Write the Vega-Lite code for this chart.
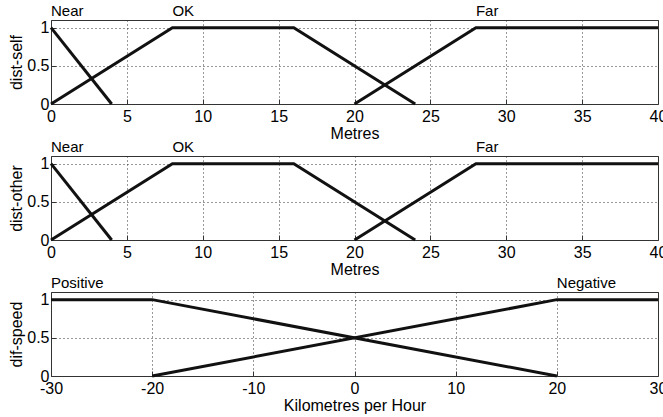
{
  "$schema": "https://vega.github.io/schema/vega-lite/v6.json",
  "autosize": {"type": "pad"},
  "padding": {"left": 7, "top": 3, "right": 0, "bottom": 0},
  "background": "white",
  "datasets": {
    "mf": [
      {"panel": "self", "mf": "Near", "x": 0, "y": 1},
      {"panel": "self", "mf": "Near", "x": 4, "y": 0},
      {"panel": "self", "mf": "OK", "x": 0, "y": 0},
      {"panel": "self", "mf": "OK", "x": 8, "y": 1},
      {"panel": "self", "mf": "OK", "x": 16, "y": 1},
      {"panel": "self", "mf": "OK", "x": 24, "y": 0},
      {"panel": "self", "mf": "Far", "x": 20, "y": 0},
      {"panel": "self", "mf": "Far", "x": 28, "y": 1},
      {"panel": "self", "mf": "Far", "x": 40, "y": 1},
      {"panel": "other", "mf": "Near", "x": 0, "y": 1},
      {"panel": "other", "mf": "Near", "x": 4, "y": 0},
      {"panel": "other", "mf": "OK", "x": 0, "y": 0},
      {"panel": "other", "mf": "OK", "x": 8, "y": 1},
      {"panel": "other", "mf": "OK", "x": 16, "y": 1},
      {"panel": "other", "mf": "OK", "x": 24, "y": 0},
      {"panel": "other", "mf": "Far", "x": 20, "y": 0},
      {"panel": "other", "mf": "Far", "x": 28, "y": 1},
      {"panel": "other", "mf": "Far", "x": 40, "y": 1},
      {"panel": "speed", "mf": "Positive", "x": -30, "y": 1},
      {"panel": "speed", "mf": "Positive", "x": -20, "y": 1},
      {"panel": "speed", "mf": "Positive", "x": 20, "y": 0},
      {"panel": "speed", "mf": "Negative", "x": -20, "y": 0},
      {"panel": "speed", "mf": "Negative", "x": 20, "y": 1},
      {"panel": "speed", "mf": "Negative", "x": 30, "y": 1}
    ],
    "labels": [
      {"panel": "self", "label": "Near", "x": 0},
      {"panel": "self", "label": "OK", "x": 8},
      {"panel": "self", "label": "Far", "x": 28},
      {"panel": "other", "label": "Near", "x": 0},
      {"panel": "other", "label": "OK", "x": 8},
      {"panel": "other", "label": "Far", "x": 28},
      {"panel": "speed", "label": "Positive", "x": -30},
      {"panel": "speed", "label": "Negative", "x": 20}
    ]
  },
  "vconcat": [
    {
      "width": 607, "height": 84,
      "layer": [
        {
          "data": {"name": "mf"},
          "transform": [{"filter": "datum.panel === 'self'"}],
          "mark": {"type": "line", "color": "#111", "strokeWidth": 3},
          "encoding": {
            "x": {"field": "x", "type": "quantitative", "scale": {"domain": [0, 40], "nice": false},
                  "axis": {"values": [0, 5, 10, 15, 20, 25, 30, 35, 40], "title": "Metres"}},
            "y": {"field": "y", "type": "quantitative", "scale": {"domain": [0, 1.1], "nice": false},
                  "axis": {"values": [0, 0.5, 1], "title": "dist-self"}},
            "detail": {"field": "mf"}
          }
        },
        {
          "data": {"name": "labels"},
          "transform": [{"filter": "datum.panel === 'self'"}],
          "mark": {"type": "text", "align": "left", "baseline": "bottom", "dy": -1, "color": "#000"},
          "encoding": {
            "x": {"field": "x", "type": "quantitative"},
            "y": {"datum": 1.1},
            "text": {"field": "label"}
          }
        }
      ]
    },
    {
      "width": 607, "height": 84,
      "layer": [
        {
          "data": {"name": "mf"},
          "transform": [{"filter": "datum.panel === 'other'"}],
          "mark": {"type": "line", "color": "#111", "strokeWidth": 3},
          "encoding": {
            "x": {"field": "x", "type": "quantitative", "scale": {"domain": [0, 40], "nice": false},
                  "axis": {"values": [0, 5, 10, 15, 20, 25, 30, 35, 40], "title": "Metres"}},
            "y": {"field": "y", "type": "quantitative", "scale": {"domain": [0, 1.1], "nice": false},
                  "axis": {"values": [0, 0.5, 1], "title": "dist-other"}},
            "detail": {"field": "mf"}
          }
        },
        {
          "data": {"name": "labels"},
          "transform": [{"filter": "datum.panel === 'other'"}],
          "mark": {"type": "text", "align": "left", "baseline": "bottom", "dy": -1, "color": "#000"},
          "encoding": {
            "x": {"field": "x", "type": "quantitative"},
            "y": {"datum": 1.1},
            "text": {"field": "label"}
          }
        }
      ]
    },
    {
      "width": 607, "height": 84,
      "layer": [
        {
          "data": {"name": "mf"},
          "transform": [{"filter": "datum.panel === 'speed'"}],
          "mark": {"type": "line", "color": "#111", "strokeWidth": 3},
          "encoding": {
            "x": {"field": "x", "type": "quantitative", "scale": {"domain": [-30, 30], "nice": false},
                  "axis": {"values": [-30, -20, -10, 0, 10, 20, 30], "title": "Kilometres per Hour"}},
            "y": {"field": "y", "type": "quantitative", "scale": {"domain": [0, 1.1], "nice": false},
                  "axis": {"values": [0, 0.5, 1], "title": "dif-speed"}},
            "detail": {"field": "mf"}
          }
        },
        {
          "data": {"name": "labels"},
          "transform": [{"filter": "datum.panel === 'speed'"}],
          "mark": {"type": "text", "align": "left", "baseline": "bottom", "dy": -1, "color": "#000"},
          "encoding": {
            "x": {"field": "x", "type": "quantitative"},
            "y": {"datum": 1.1},
            "text": {"field": "label"}
          }
        }
      ]
    }
  ],
  "spacing": 52,
  "bounds": "flush",
  "config": {
    "view": {"stroke": "#333", "strokeWidth": 1},
    "axis": {
      "labelFont": "Liberation Sans", "titleFont": "Liberation Sans",
      "labelFontSize": 16, "titleFontSize": 16, "titleFontWeight": "normal",
      "labelColor": "#000", "titleColor": "#000",
      "domain": false, "ticks": true, "tickSize": -5, "tickColor": "#333", "tickWidth": 1,
      "grid": true, "gridDash": [1, 3], "gridColor": "#333", "gridOpacity": 1, "gridWidth": 1,
      "labelExpr": "'' + datum.value"
    },
    "axisX": {"labelPadding": 9, "titlePadding": 1, "labelFlush": false, "labelOverlap": false},
    "axisY": {"labelPadding": 7, "labelOverlap": false, "titleX": -35, "titleY": 42, "titleAlign": "center", "titleBaseline": "middle", "titleAngle": -90},
    "text": {"font": "Liberation Sans", "fontSize": 15}
  }
}
